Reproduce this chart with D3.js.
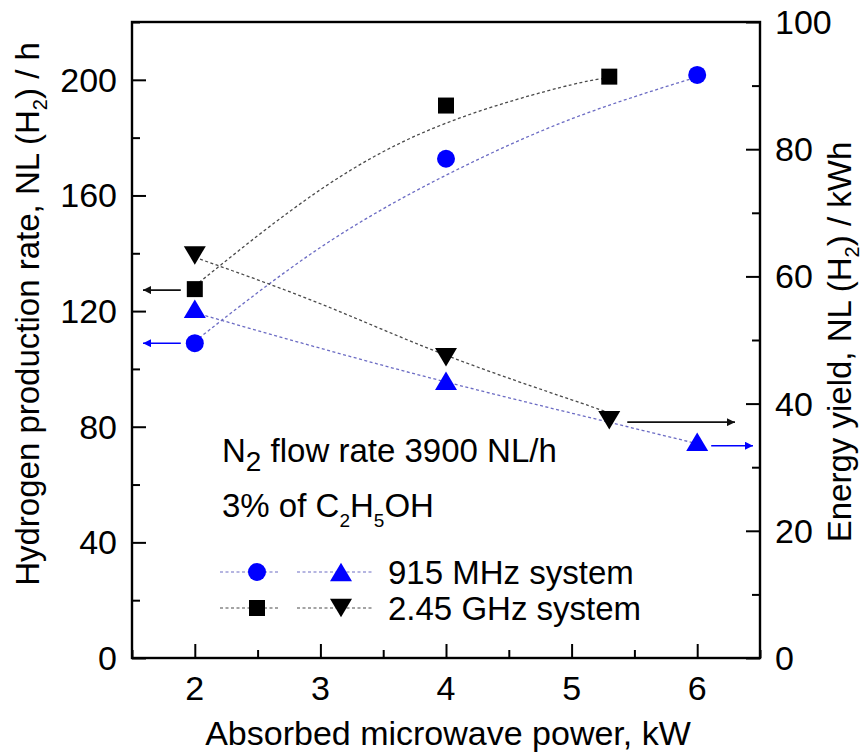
<!DOCTYPE html>
<html>

<head>
    <title>Hydrogen production vs absorbed microwave power</title>
    <script src="https://cdn.jsdelivr.net/npm/d3@7"></script>
    <style>
        html, body { margin: 0; padding: 0; background: #fff; overflow: hidden; }
        svg { display: block; }
        text { font-family: 'Liberation Sans', Arial, sans-serif; fill: #000; }
    </style>
</head>

<body>
    <svg width="865" height="756" id="mainsvg"></svg>
    <script>
        // measured points
        const xPower915 = [2, 4, 6];
        const h2Rate915 = [108.9, 172.7, 201.7];
        const energyYield915 = [54.9, 43.6, 34.0];
        const xPower245 = [2, 4, 5.3];
        const h2Rate245 = [127.6, 191.1, 201.1];
        const energyYield245 = [63.3, 47.3, 37.4];

        // fitted trend lines
        const fitX915 = [2, 3, 4, 5, 6];
        const fitH2Rate915 = [109.5, 142, 167, 186.5, 201];
        const fitYield915 = [54.3, 48.7, 43.4, 38.5, 33.7];
        const fitX245 = [2, 3, 4, 5, 5.3];
        const fitH2Rate245 = [128.7, 162, 185, 198.3, 200.3];
        const fitYield245 = [63.0, 55.7, 47.6, 40.6, 38.5];

        const xTicks = [2, 3, 4, 5, 6];
        const leftTicks = [0, 40, 80, 120, 160, 200];
        const rightTicks = [0, 20, 40, 60, 80, 100];

        const svg = d3.select('svg');
        const width = +svg.attr('width');
        const height = +svg.attr('height');
        const margin = { top: 22, right: 105, bottom: 98, left: 132 };
        const innerWidth = width - margin.left - margin.right;
        const innerHeight = height - margin.top - margin.bottom;

        const blue = '#0000ff';
        const blueLine = '#6c6cc4';
        const greyLine = '#4a4a4a';

        const xScale = d3.scaleLinear().domain([1.5, 6.5]).range([0, innerWidth]);
        const yLeft = d3.scaleLinear().domain([0, 220]).range([innerHeight, 0]);
        const yRight = d3.scaleLinear().domain([0, 100]).range([innerHeight, 0]);

        const g = svg.append('g')
            .attr('transform', `translate(${margin.left}, ${margin.top})`);

        // arrow heads
        const defs = svg.append('defs');
        [['arrBlack', '#111'], ['arrBlue', blue]].forEach(([id, c]) => {
            defs.append('marker')
                .attr('id', id)
                .attr('viewBox', '0 0 10 10')
                .attr('refX', 10).attr('refY', 5)
                .attr('markerWidth', 12).attr('markerHeight', 8)
                .attr('markerUnits', 'userSpaceOnUse')
                .attr('orient', 'auto')
                .append('path')
                .attr('d', 'M0,0L10,5L0,10Z')
                .attr('fill', c);
        });

        // triangle with its box centred on the point
        const triType = dir => ({
            draw(ctx, size) {
                const w = size, h = size * 0.84;
                ctx.moveTo(0, -dir * h / 2);
                ctx.lineTo(w / 2, dir * h / 2);
                ctx.lineTo(-w / 2, dir * h / 2);
                ctx.closePath();
            }
        });
        const symCircle = d3.symbol().type(d3.symbolCircle).size(Math.PI * 81);
        const symSquare = d3.symbol().type(d3.symbolSquare).size(256);
        const symUp = d3.symbol().type(triType(1)).size(22);
        const symDown = d3.symbol().type(triType(-1)).size(22);

        // trend lines
        const drawFit = (xs, ys, yScale, color) => {
            const line = d3.line()
                .x(d => xScale(d[0]))
                .y(d => yScale(d[1]))
                .curve(d3.curveNatural);
            g.append('path')
                .attr('d', line(d3.zip(xs, ys)))
                .attr('fill', 'none')
                .attr('stroke', color)
                .attr('stroke-width', 1.3)
                .attr('stroke-dasharray', '3,2.5');
        };
        drawFit(fitX915, fitH2Rate915, yLeft, blueLine);
        drawFit(fitX915, fitYield915, yRight, blueLine);
        drawFit(fitX245, fitH2Rate245, yLeft, greyLine);
        drawFit(fitX245, fitYield245, yRight, greyLine);

        // markers
        const drawMarks = (xs, ys, yScale, sym, color) => {
            g.append('g').selectAll('path')
                .data(d3.zip(xs, ys))
                .join('path')
                .attr('transform', d => `translate(${xScale(d[0])}, ${yScale(d[1])})`)
                .attr('d', sym())
                .attr('fill', color);
        };
        drawMarks(xPower915, h2Rate915, yLeft, symCircle, blue);
        drawMarks(xPower915, energyYield915, yRight, symUp, blue);
        drawMarks(xPower245, h2Rate245, yLeft, symSquare, '#000');
        drawMarks(xPower245, energyYield245, yRight, symDown, '#000');

        // axis arrows
        const arrow = (x1, x2, y, color, id) => {
            g.append('line')
                .attr('x1', x1).attr('x2', x2)
                .attr('y1', y).attr('y2', y)
                .attr('stroke', color)
                .attr('stroke-width', 1.6)
                .attr('marker-end', `url(#${id})`);
        };
        arrow(xScale(xPower245[0]) - 14, xScale(1.5) + 11, yLeft(h2Rate245[0]) + 1, '#111', 'arrBlack');
        arrow(xScale(xPower915[0]) - 14, xScale(1.5) + 11, yLeft(h2Rate915[0]), blue, 'arrBlue');
        arrow(xScale(xPower245[2]) + 18, xScale(6.5) - 25, yRight(energyYield245[2]) + 2, '#111', 'arrBlack');
        arrow(xScale(xPower915[2]) + 14, xScale(6.5) - 7, yRight(energyYield915[2]) + 4, blue, 'arrBlue');

        // axes: tick marks from d3 axes, labels written as plain text
        const tickAxis = (axis, values, size) => sel => {
            sel.call(axis.tickValues(values).tickSize(size).tickFormat(''));
            sel.selectAll('.tick text').remove();
            sel.selectAll('.domain').remove();
            sel.selectAll('.tick line').attr('stroke', '#000').attr('stroke-width', 2);
        };
        const minorX = d3.range(1.5, 6.51, 0.5).filter(v => !xTicks.includes(v));
        const minorLeft = d3.range(20, 221, 40);
        const minorRight = d3.range(10, 100, 20);

        const bottomAxis = g.append('g').attr('transform', `translate(0, ${innerHeight})`);
        bottomAxis.append('g').call(tickAxis(d3.axisBottom(xScale), xTicks, -14));
        bottomAxis.append('g').call(tickAxis(d3.axisBottom(xScale), minorX, -8));
        const leftAxis = g.append('g');
        leftAxis.append('g').call(tickAxis(d3.axisLeft(yLeft), leftTicks, -14));
        leftAxis.append('g').call(tickAxis(d3.axisLeft(yLeft), minorLeft, -8));
        const rightAxis = g.append('g').attr('transform', `translate(${innerWidth}, 0)`);
        rightAxis.append('g').call(tickAxis(d3.axisRight(yRight), rightTicks, -14));
        rightAxis.append('g').call(tickAxis(d3.axisRight(yRight), minorRight, -8));

        const labels = g.append('g').attr('font-size', '34px');
        labels.selectAll('.xlab').data(xTicks).join('text')
            .attr('class', 'xlab')
            .attr('x', d => xScale(d))
            .attr('y', innerHeight + 42)
            .attr('text-anchor', 'middle')
            .text(d => d);
        labels.selectAll('.ylab').data(leftTicks).join('text')
            .attr('class', 'ylab')
            .attr('x', -15)
            .attr('y', d => yLeft(d) + 12)
            .attr('text-anchor', 'end')
            .text(d => d);
        labels.selectAll('.rlab').data(rightTicks).join('text')
            .attr('class', 'rlab')
            .attr('x', innerWidth + 15)
            .attr('y', d => yRight(d) + 12)
            .attr('text-anchor', 'start')
            .text(d => d);

        g.append('rect')
            .attr('width', innerWidth).attr('height', innerHeight)
            .attr('fill', 'none')
            .attr('stroke', '#000')
            .attr('stroke-width', 2.4);

        // axis titles
        g.append('text')
            .attr('x', innerWidth / 2 + 2)
            .attr('y', innerHeight + 87)
            .attr('text-anchor', 'middle')
            .attr('font-size', '34px')
            .text('Absorbed microwave power, kW');

        const leftTitle = g.append('text')
            .attr('transform', `translate(${39 - margin.left}, ${314 - margin.top}) rotate(-90)`)
            .attr('text-anchor', 'middle')
            .attr('font-size', '33px');
        leftTitle.append('tspan').text('Hydrogen production rate, NL (H');
        leftTitle.append('tspan').attr('font-size', '20px').attr('dy', 8).text('2');
        leftTitle.append('tspan').attr('dy', -8).text(') / h');

        const rightTitle = g.append('text')
            .attr('transform', `translate(${851 - margin.left}, ${342 - margin.top}) rotate(-90)`)
            .attr('text-anchor', 'middle')
            .attr('font-size', '33px');
        rightTitle.append('tspan').text('Energy yield, NL (H');
        rightTitle.append('tspan').attr('font-size', '20px').attr('dy', 8).text('2');
        rightTitle.append('tspan').attr('dy', -8).text(') / kWh');

        // legend / notes
        const note = svg.append('g').attr('font-size', '33px');
        const n2 = note.append('text').attr('x', 222).attr('y', 462);
        n2.append('tspan').text('N');
        n2.append('tspan').attr('font-size', '28px').attr('dy', 9).text('2');
        n2.append('tspan').attr('dy', -9).text(' flow rate 3900 NL/h');

        const eth = note.append('text').attr('x', 222).attr('y', 517);
        eth.append('tspan').text('3% of C');
        eth.append('tspan').attr('font-size', '19px').attr('dy', 10).text('2');
        eth.append('tspan').attr('dy', -10).text('H');
        eth.append('tspan').attr('font-size', '19px').attr('dy', 10).text('5');
        eth.append('tspan').attr('dy', -10).text('OH');

        const legendRows = [
            { label: '915 MHz system', y: 572, color: blue, line: blueLine, a: symCircle, b: symUp },
            { label: '2.45 GHz system', y: 608, color: '#000', line: greyLine, a: symSquare, b: symDown }
        ];
        legendRows.forEach(r => {
            [[220, 278, 257], [297, 374, 341]].forEach(([x1, x2, cx], i) => {
                note.append('line')
                    .attr('x1', x1).attr('x2', x2)
                    .attr('y1', r.y).attr('y2', r.y)
                    .attr('stroke', r.line)
                    .attr('stroke-width', 1.2)
                    .attr('stroke-dasharray', '3,2.5');
                note.append('path')
                    .attr('transform', `translate(${cx}, ${r.y})`)
                    .attr('d', (i === 0 ? r.a : r.b)())
                    .attr('fill', r.color);
            });
            note.append('text')
                .attr('x', 388)
                .attr('y', r.y + 12)
                .text(r.label);
        });
    </script>
</body>

</html>
